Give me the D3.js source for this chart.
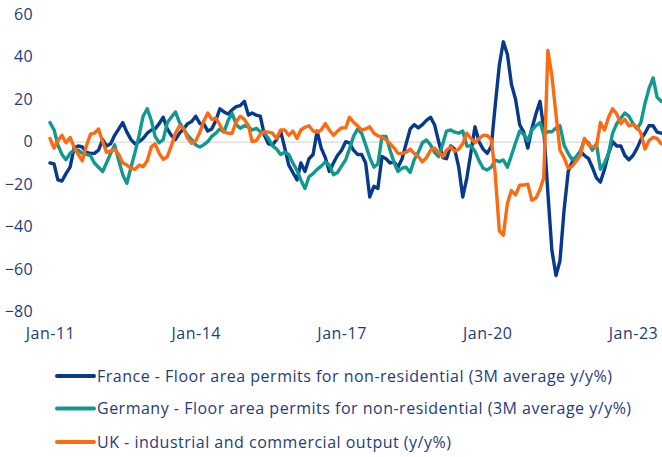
<!DOCTYPE html>
<html>
<head>
<meta charset="utf-8">
<script src="https://cdn.jsdelivr.net/npm/d3@7"></script>
<style>
  html, body { margin: 0; padding: 0; background: #ffffff; }
  svg { display: block; }
  text { font-family: "Open Sans", "Lato", sans-serif; fill: #1f3c7a; }
</style>
</head>
<body>
<svg id="chart" width="662" height="457"></svg>
<script>
// ---- data ----
const startMonth = [2011, 0]; // Jan-11, monthly observations
const yTicks = [60, 40, 20, 0, -20, -40, -60, -80];
const xTickLabels = ["Jan-11", "Jan-14", "Jan-17", "Jan-20", "Jan-23"];
const xTickDates = ["2011-01", "2014-01", "2017-01", "2020-01", "2023-01"];
const seriesNames = [
  "France - Floor area permits for non-residential (3M average y/y%)",
  "Germany - Floor area permits for non-residential (3M average y/y%)",
  "UK - industrial and commercial output (y/y%)"
];
const france = [
  -10, -10.5, -18, -18.5, -15, -12, -3, -2, -2.5, -5,
  -5.5, -5.5, -4, 1, -2, -1, 3, 6, 9, 4.5,
  1, -1, 0, 1.5, 4, 5.5, 6, 8.5, 11.5, 6,
  3, 1, 4, 6, 8.5, 9.5, 12, 8.5, 8.5, 5,
  6, 10, 15.5, 14, 13, 15, 16.5, 17, 19, 12.5,
  13.5, 12.5, 12, 3, -1, -1.5, 1, 5, -3, -11,
  -14.5, -18, -10, -14, -8, -6, 5, -3, -7.5, -14,
  -10, -6.5, -4, 0, -0.5, -4, -6, -6, -10, -26,
  -21, -22, -7, -8, -10, -9.5, -12, -8, -1, 6,
  8, 6.5, 8, 10, 11.5, 8, 0, -7.5, -8, -2,
  -3.5, -12, -26, -17, -5, 7, 0, -3.5, -5.5, -2,
  17, 36, 47, 41, 27, 20, 8, 4.5, -3, 6,
  13, 19, 6, -24, -51, -63, -56, -32, -14, -9.5,
  -7.5, -4.5, -6.5, -8, -12, -17, -19, -13, -5.5, 0,
  -2, -2, -6.5, -8.5, -6.5, -3, 1, 4, 7.5, 7.5,
  4.5, 4
];
const germany = [
  9, 5.5, -1.5, -6, -8.5, -5.5, -4, -4, -5.5, -6,
  -6.5, -10, -12, -14, -10, -5.5, -1.5, -9, -15.5, -19.5,
  -12, -5, 3, 12, 15.5, 10, 2.5, -0.5, 1, 9,
  11.5, 14, 9, 6, 3, 1, -1.5, -2.5, -1.5, 0,
  2.5, 4, 6, 4.5, 10, 13.3, 8, 6.3, 7.5, 7,
  5.5, 6.3, 4.7, 4, 1.5, -2, -3.5, -6, -5, -6,
  -10, -13.5, -18, -22, -16.5, -15, -13, -11.5, -9.5, -11,
  -15.5, -14.5, -11.5, -8.5, -3.5, 2.5, 6, 4, -1.5, -7.5,
  -12, -10.5, 2.5, 2.5, -4, -10, -14, -12.5, -12, -14.5,
  -8.5, -5, -0.5, 0.8, -1.5, -5, -7, -1, 5, 5.5,
  4.5, 4, 5, -2, -2, -4.5, -9, -12.5, -13.3, -12,
  -8.6, -9.4, -8.6, -12, -6.5, -0.5, 5, 3.5, 0.5, 5.5,
  7.5, 9, 3.5, 4.7, 4.7, 6.5, 7.5, -1.5, -5.5, -8.5,
  -7, -4.5, 1, -0.5, -4, -1, -13, -10, -5.5, 4,
  8.5, 11, 13.5, 12, 8.5, 6, 9, 18, 25, 30,
  21, 19
];
const uk = [
  1.5, -3, 0.5, 3, -0.5, 2, -2.5, -6, -9, -2,
  3.5, 4, 6, 0, -5, -4.5, -3.5, -6, -10, -11,
  -12.5, -13, -11, -11.8, -9, -2.4, -1, -5.5, -8.3, -7,
  -2, 4, 7.5, 6.3, 1.6, -0.8, 0.5, 4.5, 9.5, 13.5,
  10.5, 11, 8, 4.5, 4, 4, 9.5, 12, 10.5, 7.5,
  0, 0.5, 3.5, 4.7, 4.5, 4, 1.5, 5.5, 5.5, 3,
  5, 1.5, 5.5, 6.8, 7.5, 5, 4.5, 5.5, 8.5, 5.5,
  3, 5, 6.5, 6.5, 11.5, 9.2, 7.5, 5.5, 6, 7,
  4, 2.8, 2, 1, -1, -3, -5.5, -5.5, -5, -3.5,
  -5.5, -7, -9.5, -7.5, -4, -3, -5, -7, -4, -2.4,
  -4.5, -3.5, -1, 4, 1.5, -0.5, 1.5, 3, 3, 1,
  -15, -42, -44, -29, -23, -25, -20.5, -20.4, -20, -27.5,
  -26.5, -22.5, -17, 43, 31, 13, -4, -7.5, -12.5, -11.5,
  -9, -6.5, 1.5, -1.5, -2.4, -2.4, 9, 5.5, 11.5, 15.5,
  13, 8.5, 10.5, 7.5, 8, 7, 4, -3.5, 0.5, 2,
  1.5, -1
];
const seriesColors = ["#063a8c", "#11998f", "#ff6a10"];

// ---- chart ----
const svg = d3.select("#chart");
const parseMonth = d3.timeParse("%Y-%m");
const dates = france.map((_, i) => new Date(startMonth[0], startMonth[1] + i, 1));

const x = d3.scaleTime()
  .domain([parseMonth(xTickDates[0]), parseMonth(xTickDates[xTickDates.length - 1])])
  .range([50, 633]);
const y = d3.scaleLinear().domain([-80, 60]).range([311.7, 14.2]);

// zero gridline with small ticks
const gridAxis = svg.append("g")
  .attr("transform", `translate(0,${y(0)})`)
  .call(d3.axisBottom(x).tickValues(xTickDates.map(parseMonth)).tickSize(4).tickFormat(""));
gridAxis.selectAll("path, line").attr("stroke", "#d9d9d9").attr("stroke-width", 1.2);

// y axis labels
const yAxis = svg.append("g")
  .attr("transform", "translate(50,0)")
  .call(d3.axisLeft(y).tickValues(yTicks).tickSize(0).tickPadding(17).tickFormat(d3.format("d")));
yAxis.select(".domain").remove();
yAxis.selectAll("text").style("font-size", "16px").style("font-family", null)
  .style("letter-spacing", "0.3px").attr("fill", "#1f3c7a");

// x axis labels
const xAxis = svg.append("g")
  .attr("transform", "translate(0,327.5)")
  .call(d3.axisBottom(x).tickValues(xTickDates.map(parseMonth)).tickSize(0).tickPadding(0)
    .tickFormat((d, i) => xTickLabels[i]));
xAxis.select(".domain").remove();
xAxis.selectAll("text").style("font-size", "16px").style("font-family", null)
  .style("letter-spacing", "0.5px").attr("fill", "#1f3c7a");

// lines
const line = d3.line().x((d, i) => x(dates[i])).y(d => y(d));
const allSeries = [france, germany, uk];
allSeries.forEach((s, k) => {
  svg.append("path")
    .datum(s)
    .attr("d", line)
    .attr("fill", "none")
    .attr("stroke", seriesColors[k])
    .attr("stroke-width", 3.4)
    .attr("stroke-linejoin", "round")
    .attr("stroke-linecap", "round");
});

// legend
const legendY = [376, 408.5, 442];
seriesNames.forEach((name, k) => {
  const g = svg.append("g").attr("transform", `translate(0,${legendY[k]})`);
  g.append("line").attr("x1", 57).attr("x2", 94).attr("y1", 0).attr("y2", 0)
    .attr("stroke", seriesColors[k]).attr("stroke-width", 4).attr("stroke-linecap", "round");
  g.append("text").attr("x", 97).attr("y", 0).attr("dy", "0.35em")
    .style("font-size", "16px").style("letter-spacing", "0.5px").text(name);
});
</script>
</body>
</html>
